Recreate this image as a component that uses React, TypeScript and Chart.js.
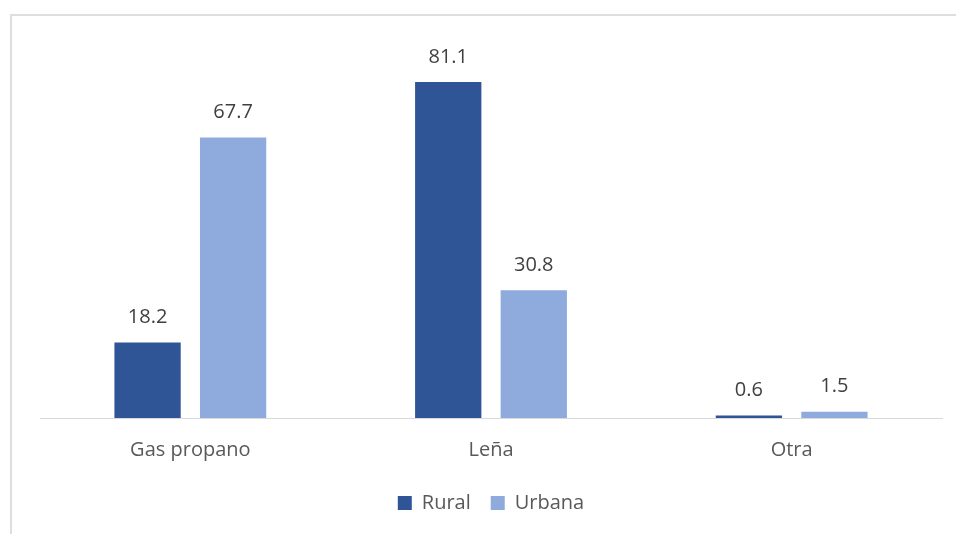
import React, { useEffect, useRef } from "react";
import { Chart, registerables } from "chart.js";

Chart.register(...registerables);

const categories = ["Gas propano", "Leña", "Otra"];
const seriesNames = ["Rural", "Urbana"];
const ruralValues = [18.2, 81.1, 0.6];
const urbanaValues = [67.7, 30.8, 1.5];
const seriesColors = ["#2F5597", "#8FAADC"];

const FONT = "'Open Sans', 'Noto Sans', sans-serif";

const dataLabelPlugin = {
  id: "dataLabels",
  afterDatasetsDraw(chart: any) {
    const ctx = chart.ctx;
    ctx.save();
    ctx.font = `20px ${FONT}`;
    ctx.fillStyle = "#404040";
    ctx.textAlign = "center";
    ctx.textBaseline = "middle";
    chart.data.datasets.forEach((ds: any, i: number) => {
      const meta = chart.getDatasetMeta(i);
      meta.data.forEach((el: any, j: number) => {
        ctx.fillText(ds.data[j].toFixed(1), el.x, el.y - 25);
      });
    });
    ctx.restore();
  },
};

export default function App() {
  const ref = useRef<HTMLCanvasElement | null>(null);
  useEffect(() => {
    if (!ref.current) return;
    const chart = new Chart(ref.current, {
      type: "bar",
      data: {
        labels: categories,
        datasets: [
          { label: seriesNames[0], data: ruralValues, backgroundColor: seriesColors[0] },
          { label: seriesNames[1], data: urbanaValues, backgroundColor: seriesColors[1] },
        ],
      },
      options: {
        animation: false,
        responsive: false,
        maintainAspectRatio: false,
        datasets: { bar: { categoryPercentage: 0.569, barPercentage: 0.775 } },
        layout: { padding: { left: 40, right: 14, top: 45, bottom: 11 } },
        scales: {
          x: {
            grid: { display: false, drawTicks: false },
            border: { display: true, color: "#d9d9d9", width: 1 },
            ticks: { color: "#595959", font: { size: 20, family: FONT }, padding: 20 },
            afterFit: (s: any) => {
              s.height -= 9;
            },
          },
          y: { display: false, min: 0, max: 90 },
        },
        plugins: {
          legend: {
            position: "bottom",
            labels: {
              boxWidth: 14,
              boxHeight: 14,
              color: "#595959",
              font: { size: 20, family: FONT },
              padding: 20,
            },
          },
          tooltip: { enabled: false },
        },
      },
      plugins: [dataLabelPlugin],
    });
    return () => chart.destroy();
  }, []);
  return (
    <div style={{ position: "fixed", left: 0, top: 0, width: 956, height: 534, overflow: "hidden", background: "#fff" }}>
      <div style={{ position: "absolute", left: 10, top: 14, width: 1200, height: 800, border: "2px solid #dedede", boxSizing: "border-box" }} />
      <canvas ref={ref} width={956} height={534} style={{ position: "absolute", left: 0, top: 0, width: 956, height: 534 }} />
    </div>
  );
}
